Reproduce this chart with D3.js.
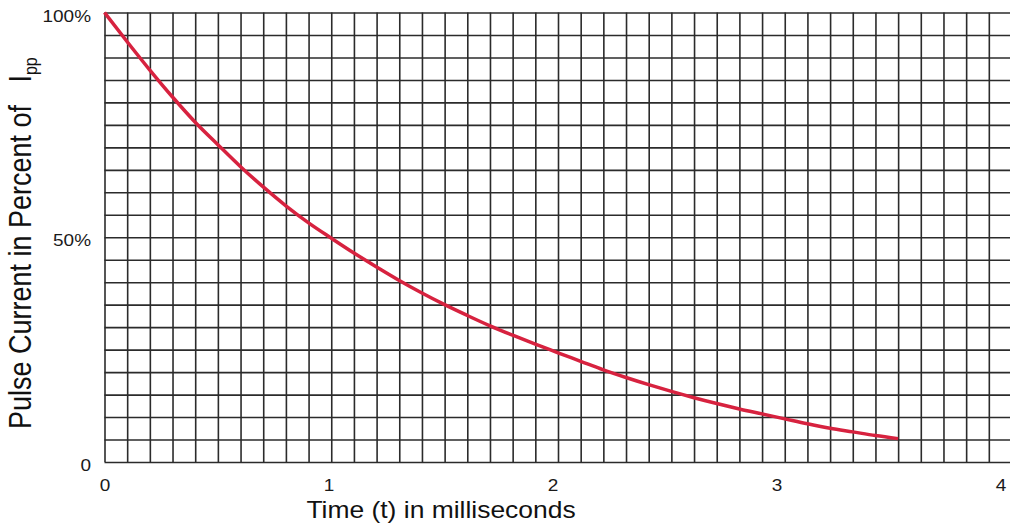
<!DOCTYPE html>
<html>
<head>
<meta charset="utf-8">
<script src="https://cdn.jsdelivr.net/npm/d3@7"></script>
<style>
  html, body { margin: 0; padding: 0; background: #fff; }
  svg { display: block; font-family: "Liberation Sans", Arial, Helvetica, sans-serif; }
</style>
</head>
<body>
<div id="chart"></div>
<script>
// Time axis (ms) and pulse current (% of Ipp)
const timeMs = [0, 0.1, 0.2, 0.3, 0.4, 0.5, 0.6, 0.7, 0.8, 0.9, 1.0, 1.1, 1.2, 1.3, 1.4, 1.5, 1.6, 1.7,
    1.8, 1.9, 2.0, 2.1, 2.2, 2.3, 2.4, 2.5, 2.6, 2.7, 2.8, 2.9, 3.0, 3.1, 3.2, 3.3, 3.4, 3.5];
const currentPct = [100, 93.5, 87.2, 81.2, 75.6, 70.6, 65.7, 61.2, 57.0, 53.2, 49.8, 46.5, 43.4, 40.4,
    37.6, 35.0, 32.6, 30.3, 28.2, 26.2, 24.3, 22.4, 20.5, 18.8, 17.2, 15.7, 14.3, 13.0, 11.8, 10.7,
    9.6, 8.5, 7.5, 6.7, 5.9, 5.2];

// Tick labels
const xTickValues = [0, 1, 2, 3, 4];
const xTickLabels = ["0", "1", "2", "3", "4"];
const yTickValues = [0, 50, 100];
const yTickLabels = ["0", "50%", "100%"];

const width = 1010;
const height = 529;
const stretch = 1.15; // reference text is a bit wider than it is tall

const svg = d3.select("#chart")
    .append("svg")
    .attr("width", width)
    .attr("height", height);

// --- scales ---
const x = d3.scaleLinear().domain([0, 4]).range([104.5, 1011.5]);
const y = d3.scaleLinear().domain([0, 100]).range([462, 12.5]);
// tick labels drift slightly left of their grid lines in the reference
const xLabel = d3.scaleLinear().domain([0, 4]).range([105, 1001]);

// --- grid (every 0.1 ms, every 5 %) ---
const grid = svg.append("g").attr("class", "grid");

grid.append("g")
    .attr("transform", `translate(0,${y(0)})`)
    .call(d3.axisBottom(x).ticks(40).tickSize(-(y(0) - y(100))).tickFormat(""))
    .call(g => g.select(".domain").remove());

grid.append("g")
    .attr("transform", `translate(${x(0)},0)`)
    .call(d3.axisLeft(y).ticks(20).tickSize(-(x(4) - x(0))).tickFormat(""))
    .call(g => g.select(".domain").remove());

grid.selectAll("line")
    .attr("stroke", "#2b2b2b")
    .attr("stroke-width", 1.6);

// --- tick labels ---
svg.append("g")
    .selectAll("text")
    .data(xTickValues)
    .join("text")
    .attr("transform", d => `translate(${xLabel(d)},491) scale(${stretch},1)`)
    .attr("text-anchor", "middle")
    .attr("fill", "#1a1a1a")
    .style("font-size", "16.5px")
    .text((d, i) => xTickLabels[i]);

svg.append("g")
    .selectAll("text")
    .data(yTickValues)
    .join("text")
    .attr("transform", d => `translate(91,${y(d) + 9}) scale(${stretch},1)`)
    .attr("text-anchor", "end")
    .attr("fill", "#1a1a1a")
    .style("font-size", "16.5px")
    .text((d, i) => yTickLabels[i]);

// --- axis titles ---
svg.append("text")
    .attr("transform", `translate(441,518) scale(${stretch},1)`)
    .attr("text-anchor", "middle")
    .attr("fill", "#111")
    .style("font-size", "23px")
    .text("Time (t) in milliseconds");

const yTitle = svg.append("text")
    .attr("transform", `translate(31,429) scale(${stretch},1) rotate(-90)`)
    .attr("text-anchor", "start")
    .attr("fill", "#111")
    .style("font-size", "27px");
yTitle.append("tspan").text("Pulse Current in Percent of \u00a0\u00a0I");
yTitle.append("tspan")
    .attr("dy", 5)
    .style("font-size", "16px")
    .text("pp");

// --- curve ---
const points = timeMs.map((t, i) => ({ t, v: currentPct[i] }));

svg.append("path")
    .datum(points)
    .attr("fill", "none")
    .attr("stroke", "#d7223f")
    .attr("stroke-width", 3.5)
    .attr("stroke-linecap", "butt")
    .attr("d", d3.line()
        .x(d => x(d.t))
        .y(d => y(d.v))
        .curve(d3.curveMonotoneX));
</script>
</body>
</html>
